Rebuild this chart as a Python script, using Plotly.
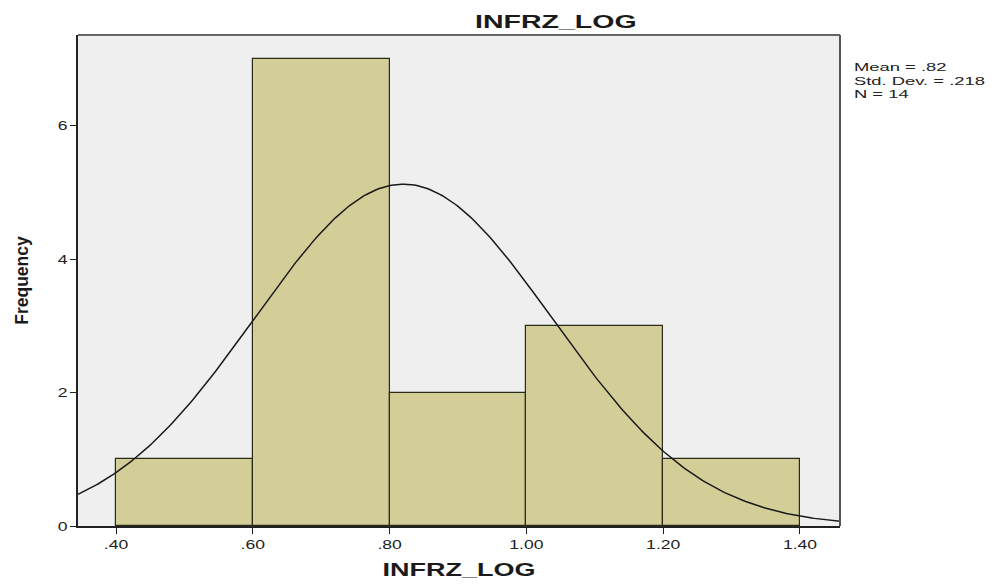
import numpy as np
import plotly.graph_objects as go

# Histogram bins (left edges) and counts
bin_starts = [0.40, 0.60, 0.80, 1.00, 1.20]
bin_width = 0.20
counts = [1, 7, 2, 3, 1]

# Summary statistics
mean = 0.82
std_dev = 0.218
n = 14

x_tickvals = [0.40, 0.60, 0.80, 1.00, 1.20, 1.40]
x_ticktext = [".40", ".60", ".80", "1.00", "1.20", "1.40"]
y_tickvals = [0, 2, 4, 6]

x_range = [0.3444, 1.4585]
y_range = [0, 7.36]

centers = [s + bin_width / 2 for s in bin_starts]

# Normal curve scaled to the histogram counts
xs = np.linspace(x_range[0], x_range[1], 300)
ys = n * bin_width / (std_dev * np.sqrt(2 * np.pi)) * np.exp(-0.5 * ((xs - mean) / std_dev) ** 2)

FONT = "Liberation Sans, Arial, sans-serif"

fig = go.Figure()
fig.add_trace(go.Bar(
    x=centers, y=counts, width=bin_width,
    marker=dict(color="#d3cd98", line=dict(color="#2b2b1a", width=1.2)),
    hoverinfo="skip",
))
fig.add_trace(go.Scatter(
    x=xs, y=ys, mode="lines",
    line=dict(color="#1a1a1a", width=1.5),
    hoverinfo="skip",
))

stats_text = "<br>".join([
    f"Mean = .{int(round(mean * 100))}",
    f"Std. Dev. = .{int(round(std_dev * 1000))}",
    f"N = {n}",
])

fig.update_layout(
    width=998, height=584,
    margin=dict(l=78, r=158, t=35, b=58),
    paper_bgcolor="white",
    plot_bgcolor="#efefef",
    showlegend=False,
    bargap=0,
    font=dict(family=FONT, color="#222222", size=13),
    title=dict(
        text="INFRZ_LOG", x=0.557, xanchor="center", y=0.963, yanchor="middle",
        font=dict(size=19, color="#1a1a1a", weight="bold"),
    ),
    xaxis=dict(
        range=x_range, tickvals=x_tickvals, ticktext=x_ticktext,
        showgrid=False, zeroline=False, automargin=False,
        showline=True, linecolor="#222222", linewidth=1.5,
        ticks="outside", ticklen=6, tickcolor="#222222",
        tickfont=dict(size=13),
        title=dict(text="INFRZ_LOG", font=dict(size=18, color="#1a1a1a", weight="bold"),
                   standoff=12),
    ),
    yaxis=dict(
        range=y_range, tickvals=y_tickvals,
        showgrid=False, zeroline=False, automargin=False,
        showline=True, linecolor="#222222", linewidth=1.5,
        ticks="outside", ticklen=6, tickcolor="#222222",
        tickfont=dict(size=13),
        title=dict(text="Frequency",
                   font=dict(size=17.5, color="#1a1a1a", weight="bold"),
                   standoff=27),
    ),
    shapes=[
        # top and right frame of the plot area
        dict(type="line", xref="paper", yref="paper", x0=0, x1=1, y0=1, y1=1,
             line=dict(color="#666666", width=2)),
        dict(type="line", xref="paper", yref="paper", x0=1, x1=1, y0=0, y1=1,
             line=dict(color="#555555", width=2)),
    ],
    annotations=[
        dict(
            text=stats_text, xref="paper", yref="paper", x=1.016, y=0.952,
            xanchor="left", yanchor="top", showarrow=False, align="left",
            font=dict(size=10.5, color="#222222"),
        ),
    ],
)

# Widen the horizontal labels to the broad lettering of the original chart style
post_js = """
var gd = document.getElementById('{plot_id}');
function widen(sel, k) {
  gd.querySelectorAll(sel).forEach(function (el) {
    var w = el.getComputedTextLength();
    if (w > 0) {
      el.setAttribute('textLength', (w * k).toFixed(2));
      el.setAttribute('lengthAdjust', 'spacingAndGlyphs');
    }
  });
}
widen('.xtick text', 1.35);
widen('.ytick text', 1.35);
widen('text.gtitle', 1.5);
widen('text.xtitle', 1.5);
widen('text.annotation-text tspan.line', 1.75);
"""

fig.write_html("out.html", post_script=post_js)
